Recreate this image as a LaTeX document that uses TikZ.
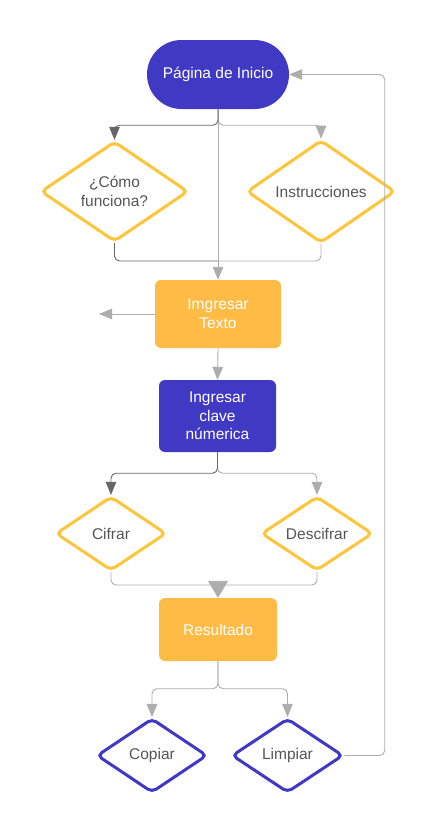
\documentclass[tikz,border=0pt]{standalone}
\usepackage{fontspec}
\setmainfont{Liberation Sans}
\usetikzlibrary{shapes.geometric,arrows.meta}
\definecolor{bluefill}{HTML}{3F39C4}
\definecolor{yel}{HTML}{FFC53A}
\definecolor{orng}{HTML}{FEBC47}
\definecolor{lgray}{HTML}{ADADAD}
\definecolor{dgray}{HTML}{666666}
\definecolor{txt}{HTML}{555555}
\begin{document}
\begin{tikzpicture}[x=1pt,y=-1pt,
  font=\fontsize{15.5}{18.7}\selectfont,
  conn/.style={draw=lgray, line width=0.9pt, rounded corners=5pt},
  dconn/.style={draw=dgray, line width=0.9pt, rounded corners=5pt},
  tip/.style={-{Triangle[length=13pt,width=10.5pt]}},
  bigtip/.style={-{Triangle[length=17pt,width=20pt]}},
  bluebox/.style={fill=bluefill, text=white, align=center, inner sep=0pt},
  orbox/.style={fill=orng, text=white, align=center, inner sep=0pt, rounded corners=6pt},
  dia/.style={shape=diamond, draw=#1, line width=3pt, rounded corners=5pt, text=txt, align=center, inner sep=0pt, fill=white},
]
\useasboundingbox (0,0) rectangle (435,835);
\fill[white] (0,0) rectangle (435,835);

% nodes
\node[bluebox, rounded corners=34.5pt, minimum width=142pt, minimum height=69pt] (inicio) at (218,74.5) {Página de Inicio};
\node[dia=yel, minimum width=147.4pt, minimum height=100.2pt] (como) at (114.5,191.5) {¿Cómo\\funciona?};
\node[dia=yel, minimum width=148.4pt, minimum height=100.2pt] (instr) at (321,191.5) {Instrucciones};
\node[orbox, minimum width=126pt, minimum height=68pt] (texto) at (218,314) {Imgresar\\Texto};
\node[bluebox, rounded corners=6pt, minimum width=117pt, minimum height=72pt] (clave) at (217.5,416) {Ingresar\\clave\\númerica};
\node[dia=yel, minimum width=110.4pt, minimum height=74.2pt] (cifrar) at (111,533.5) {Cifrar};
\node[dia=yel, minimum width=111.4pt, minimum height=74.2pt] (descifrar) at (317,533.5) {Descifrar};
\node[orbox, minimum width=118pt, minimum height=63pt] (result) at (218,629.5) {Resultado};
\node[dia=bluefill, minimum width=110.4pt, minimum height=74.2pt] (copiar) at (152,755.5) {Copiar};
\node[dia=bluefill, minimum width=111.4pt, minimum height=74.2pt] (limpiar) at (287.5,755.5) {Limpiar};

\coordinate (lft) at (99,314);
\coordinate (j1) at (218,261);
\coordinate (j3) at (218,585);

% connectors from inicio
\draw[conn,tip] (inicio.south) -- ++(0,16) -| (instr.north);
\draw[conn,tip] (inicio.south) -- (texto.north);
\draw[dconn,tip] (inicio.south) -- ++(0,16) -| (como.north);
\draw[conn] (instr.south) |- (j1);
\draw[dconn] (como.south) |- (j1);

% texto
\draw[conn,tip] (texto.west) -- (lft);
\draw[conn,tip] (texto.south) -- (clave.north);

% clave
\draw[conn,tip] (clave.south) -- ++(0,21) -| (descifrar.north);
\draw[dconn,tip] (clave.south) -- ++(0,21) -| (cifrar.north);

% to result
\draw[conn] (cifrar.south) |- (j3);
\draw[conn] (descifrar.south) |- (j3);
\draw[draw=lgray, line width=0.9pt, bigtip] (j3) -- (result.north);

% result
\draw[conn,tip] (result.south) -- ++(0,27.5) -| (copiar.north);
\draw[conn,tip] (result.south) -- ++(0,27.5) -| (limpiar.north);

% loop back
\draw[conn,tip] (limpiar.east) -- ++(40,0) |- (inicio.east);
\end{tikzpicture}
\end{document}
